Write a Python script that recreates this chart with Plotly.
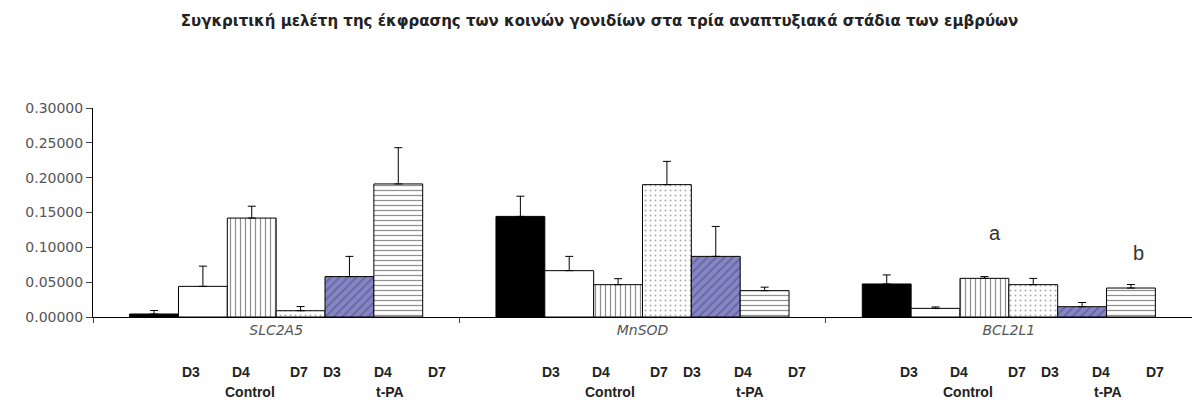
import plotly.graph_objects as go

genes = ["SLC2A5", "MnSOD", "BCL2L1"]
series_names = ["Control D3", "Control D4", "Control D7", "t-PA D3", "t-PA D4", "t-PA D7"]
ctrl_d3 = [0.0043, 0.1444, 0.0474]
ctrl_d4 = [0.0440, 0.0665, 0.0124]
ctrl_d7 = [0.1420, 0.0464, 0.0555]
tpa_d3 = [0.0090, 0.1900, 0.0464]
tpa_d4 = [0.0580, 0.0870, 0.0148]
tpa_d7 = [0.1910, 0.0378, 0.0416]
err_ctrl_d3 = [0.0050, 0.0290, 0.0130]
err_ctrl_d4 = [0.0290, 0.0205, 0.0020]
err_ctrl_d7 = [0.0170, 0.0086, 0.0025]
err_tpa_d3 = [0.0060, 0.0334, 0.0090]
err_tpa_d4 = [0.0290, 0.0430, 0.0060]
err_tpa_d7 = [0.0520, 0.0050, 0.0050]
day_labels = ["D3", "D4", "D7", "D3", "D4", "D7"]
group_labels = ["Control", "t-PA"]
sig_labels = ["a", "b"]
title_text = "Συγκριτική μελέτη της έκφρασης των κοινών γονιδίων στα τρία αναπτυξιακά στάδια των εμβρύων"

values = [ctrl_d3, ctrl_d4, ctrl_d7, tpa_d3, tpa_d4, tpa_d7]
errors = [err_ctrl_d3, err_ctrl_d4, err_ctrl_d7, err_tpa_d3, err_tpa_d4, err_tpa_d7]

styles = [
    dict(color="black", pattern=dict(shape="")),
    dict(color="white", pattern=dict(shape="")),
    dict(color="white", pattern=dict(shape="|", fgcolor="#222", size=5, solidity=0.25)),
    dict(color="white", pattern=dict(shape=".", fgcolor="#555", size=5, solidity=0.12)),
    dict(color="#8585c6", pattern=dict(shape="/", fgcolor="#45456e", size=6, solidity=0.3)),
    dict(color="white", pattern=dict(shape="-", fgcolor="#222", size=5, solidity=0.25)),
]

W, H = 1192, 400
L, R, T, B = 93, 0, 108, 83
pw = W - L - R
ph = H - T - B

def px(x):
    return (x - L) / pw

def py(y):
    return (H - B - y) / ph

fig = go.Figure()
for name, vals, errs, st in zip(series_names, values, errors, styles):
    fig.add_trace(go.Bar(
        x=genes, y=vals, name=name,
        marker=dict(color=st["color"], pattern=st["pattern"], line=dict(color="black", width=1)),
        error_y=dict(type="data", array=errs, arrayminus=[0] * len(errs), symmetric=False,
                     color="black", thickness=1, width=4),
    ))

fig.update_layout(
    width=W, height=H,
    margin=dict(l=L, r=R, t=T, b=B),
    barmode="group", bargap=0.2, bargroupgap=0,
    showlegend=False,
    plot_bgcolor="white", paper_bgcolor="white",
    font=dict(family="DejaVu Sans, sans-serif", color="#333"),
    title=dict(text="<b>" + title_text + "</b>", x=0.503, xanchor="center", y=1 - 21 / H, yanchor="middle",
               font=dict(family="DejaVu Sans, sans-serif", size=15, color="#222")),
)
fig.update_yaxes(range=[0, 0.3], dtick=0.05, tickformat=".5f", ticks="outside", ticklen=6,
                 showline=True, linecolor="black", linewidth=1, showgrid=False, zeroline=False,
                 tickfont=dict(family="DejaVu Sans, sans-serif", size=14, color="#555"))
fig.update_xaxes(tickvals=genes, ticktext=["<i>" + g + "</i>" for g in genes], ticks="outside", tickson="boundaries",
                 ticklen=5, showline=True, linecolor="black", linewidth=1, showgrid=False,
                 tickfont=dict(family="DejaVu Sans, sans-serif", size=14, color="#555"))

day_px = [191, 241, 299, 332, 383, 437]
grp_px = [250, 390]
group_shift = [0, 360, 718]
lab_font = "Liberation Sans, Arial, sans-serif"
for g, sh in enumerate(group_shift):
    for i, xp in enumerate(day_px):
        fig.add_annotation(text="<b>" + day_labels[i] + "</b>", xref="paper", yref="paper",
                           x=px(xp + sh), y=py(372), showarrow=False, xanchor="center", yanchor="middle",
                           font=dict(family=lab_font, size=14, color="#222"))
    for i, xp in enumerate(grp_px):
        fig.add_annotation(text="<b>" + group_labels[i] + "</b>", xref="paper", yref="paper",
                           x=px(xp + sh), y=py(392), showarrow=False, xanchor="center", yanchor="middle",
                           font=dict(family=lab_font, size=14, color="#222"))
for lab, xp, yp in zip(sig_labels, [995, 1138], [233, 253]):
    fig.add_annotation(text=lab, xref="paper", yref="paper", x=px(xp), y=py(yp), showarrow=False,
                       xanchor="center", yanchor="middle", font=dict(family=lab_font, size=20, color="#333"))

fig.write_html("out.html", config={"displayModeBar": False},
               post_script="document.body.style.margin='0px';document.body.style.overflow='hidden';")
